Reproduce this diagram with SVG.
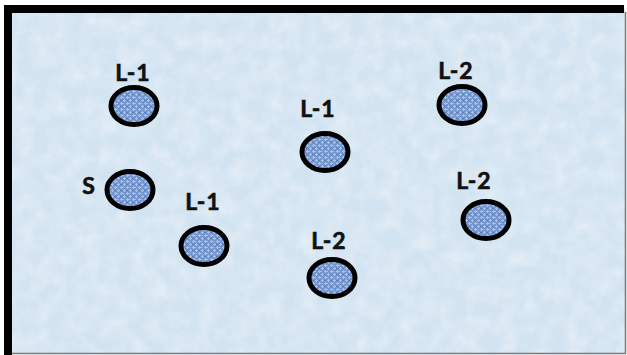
<svg xmlns="http://www.w3.org/2000/svg" width="627" height="355" viewBox="0 0 627 355">
  <defs>
    <style>
      .node-shape { fill: url(#weave); stroke: #000; stroke-width: 5; }
      .node-label { font-family: Lato, "Open Sans", "Liberation Sans", sans-serif; font-weight: bold; font-size: 23px; letter-spacing: 1px; fill: #111; stroke: #111; stroke-width: 0.6; text-anchor: middle; }
    </style>
    <!-- woven blue fill for the nodes -->
    <pattern id="weave" width="6" height="6" patternUnits="userSpaceOnUse">
      <rect width="6" height="6" fill="#7596cc"/>
      <path d="M0 1.5H4M3 4.5H6M1.5 0V3M4.5 3V6" stroke="#a9c0e6" stroke-width="1"/>
      <path d="M0 4.5H2" stroke="#5a7cb6" stroke-width="1"/>
    </pattern>
    <!-- mottled paper texture for the backdrop -->
    <filter id="paper" x="0" y="0" width="100%" height="100%">
      <feTurbulence type="fractalNoise" baseFrequency="0.06" numOctaves="3" seed="7" result="n"/>
      <feColorMatrix in="n" type="matrix" values="0 0 0 0 1  0 0 0 0 1  0 0 0 0 1  0 0 0 1.1 -0.35" result="spots"/>
      <feComposite in="spots" in2="SourceGraphic" operator="in"/>
    </filter>
  </defs>

  <!-- page -->
  <rect width="627" height="355" fill="#fff"/>
  <rect x="8" y="9" width="617" height="344" fill="#d2e3f1"/>
  <rect x="8" y="9" width="617" height="344" fill="#d2e3f1" filter="url(#paper)" opacity="0.6"/>

  <!-- frame -->
  <path d="M8 355V9H624" fill="none" stroke="#000" stroke-width="8"/>
  <path d="M625.5 12V353.5H12" fill="none" stroke="#777" stroke-width="1.5"/>

  <g id="connectors"/>

  <g id="n1">
    <text class="node-label" x="133" y="81">L-1</text>
    <ellipse class="node-shape" cx="134" cy="106" rx="23" ry="18.5"/>
  </g>
  <g id="n2">
    <text class="node-label" x="89" y="194">S</text>
    <ellipse class="node-shape" cx="130" cy="190" rx="23" ry="18.5"/>
  </g>
  <g id="n3">
    <text class="node-label" x="203" y="210">L-1</text>
    <ellipse class="node-shape" cx="204" cy="246" rx="23" ry="18.5"/>
  </g>
  <g id="n4">
    <text class="node-label" x="318" y="117">L-1</text>
    <ellipse class="node-shape" cx="325" cy="152" rx="23" ry="18.5"/>
  </g>
  <g id="n5">
    <text class="node-label" x="329" y="249">L-2</text>
    <ellipse class="node-shape" cx="332" cy="278" rx="23" ry="18.5"/>
  </g>
  <g id="n6">
    <text class="node-label" x="456" y="79">L-2</text>
    <ellipse class="node-shape" cx="462" cy="105" rx="23" ry="18.5"/>
  </g>
  <g id="n7">
    <text class="node-label" x="474" y="189">L-2</text>
    <ellipse class="node-shape" cx="486" cy="220" rx="23" ry="18.5"/>
  </g>
</svg>
